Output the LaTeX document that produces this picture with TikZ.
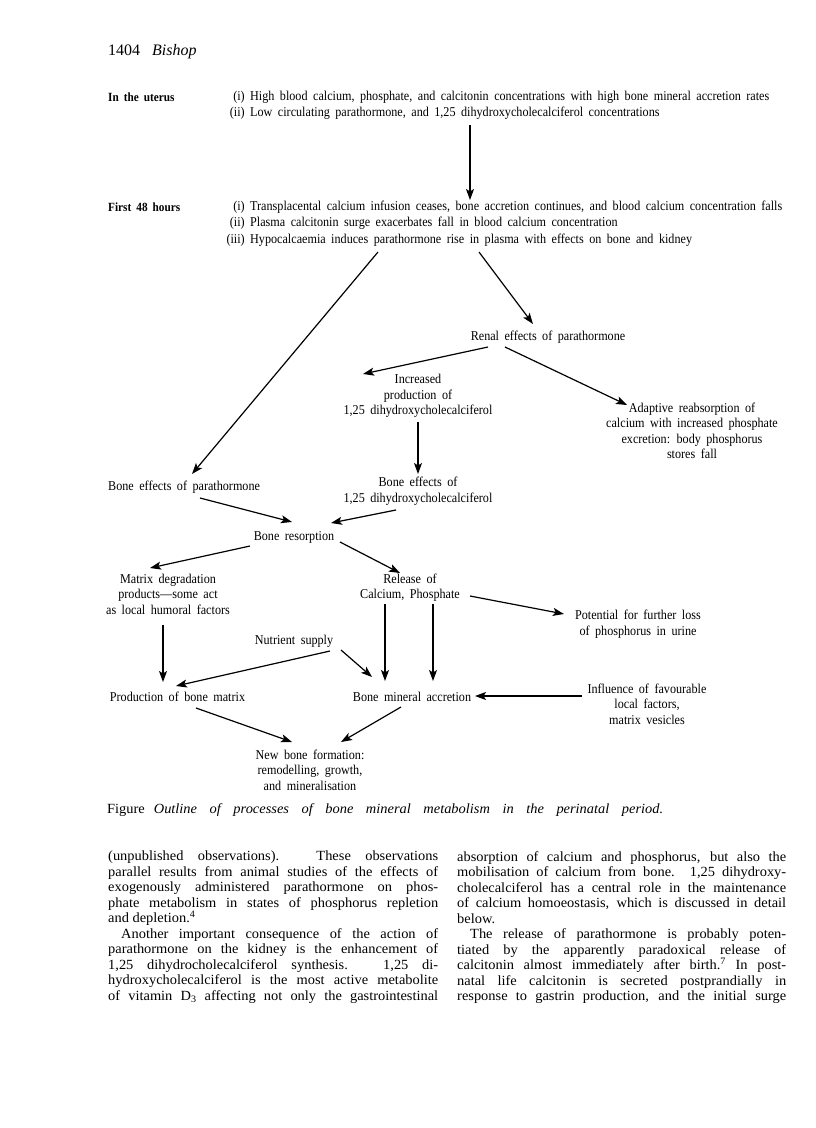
\documentclass[tikz,border=0pt]{standalone}
\usepackage{fontspec}
\setmainfont{Liberation Serif}
\newfontfamily\diagfont{Liberation Serif}[FakeStretch=0.9,WordSpace=1.8]
\newfontfamily\bodyfont{Liberation Serif}[FakeStretch=1.03]
\usepackage{tikz}
\usetikzlibrary{arrows.meta}

\begin{document}
\begin{tikzpicture}[
    x=1pt, y=-1pt,
    lbl/.style={font=\diagfont\fontsize{13.5}{15.5}\selectfont, inner sep=0pt, align=center},
    hdr/.style={font=\diagfont\bfseries\fontsize{12.5}{14}\selectfont, inner sep=0pt, anchor=west},
    itm/.style={lbl, anchor=west},
    arr/.style={-{Stealth[length=11pt,width=8pt,inset=2.5pt]}, line width=1.2pt},
    body/.style={font=\bodyfont\fontsize{14}{15.5}\selectfont, inner sep=0pt, anchor=north west, align=left}
  ]
  \useasboundingbox (0,0) rectangle (816,1128);

  % running head
  \node[font=\fontsize{16}{18}\selectfont, anchor=west, inner sep=0pt] (folio) at (108,52) {1404\hspace{12pt}\textit{Bishop}};

  % before birth
  \node[hdr] (uterus) at (108,97) {In the uterus};
  \node[itm] (u1) at (250,97) {\llap{(i) }High blood calcium, phosphate, and calcitonin concentrations with high bone mineral accretion rates};
  \node[itm] (u2) at (250,113) {\llap{(ii) }Low circulating parathormone, and 1,25 dihydroxycholecalciferol concentrations};

  % first two days
  \node[hdr] (first) at (108,207) {First 48 hours};
  \node[itm] (f1) at (250,207) {\llap{(i) }Transplacental calcium infusion ceases, bone accretion continues, and blood calcium concentration falls};
  \node[itm] (f2) at (250,223) {\llap{(ii) }Plasma calcitonin surge exacerbates fall in blood calcium concentration};
  \node[itm] (f3) at (250,240) {\llap{(iii) }Hypocalcaemia induces parathormone rise in plasma with effects on bone and kidney};

  % kidney branch
  \node[lbl] (renal) at (548,337) {Renal effects of parathormone};
  \node[lbl] (incd) at (418,396) {Increased\\production of\\1,25 dihydroxycholecalciferol};
  \node[lbl] (adapt) at (692,431) {Adaptive reabsorption of\\calcium with increased phosphate\\excretion: body phosphorus\\stores fall};
  \node[lbl] (bonevd) at (418,491) {Bone effects of\\1,25 dihydroxycholecalciferol};

  % bone
  \node[lbl, anchor=west] (bonept) at (108,487) {Bone effects of parathormone};
  \node[lbl] (resorp) at (294,537) {Bone resorption};
  \node[lbl] (matrix) at (168,594) {Matrix degradation\\products—some act\\as local humoral factors};
  \node[lbl] (release) at (410,587.5) {Release of\\Calcium, Phosphate};
  \node[lbl] (loss) at (638,624) {Potential for further loss\\of phosphorus in urine};
  \node[lbl] (nutr) at (294,641) {Nutrient supply};
  \node[lbl] (prodm) at (177.5,697) {Production of bone matrix};
  \node[lbl] (bma) at (412,697) {Bone mineral accretion};
  \node[lbl] (infl) at (647,704) {Influence of favourable\\local factors,\\matrix vesicles};
  \node[lbl] (newb) at (310,770) {New bone formation:\\remodelling, growth,\\and mineralisation};

  \draw[arr] ([shift={(220,12)}]u2.west) -- ([shift={(220,-7)}]f1.west);
  \draw[arr] ([shift={(128,12)}]f3.west) -- ([shift={(84,-13)}]bonept.west);
  \draw[arr] ([shift={(229,12)}]f3.west) -- ([shift={(-15,-13)}]renal.center);
  \draw[arr] ([shift={(-60,10)}]renal.center) -- ([shift={(-55,-22)}]incd.center);
  \draw[arr] ([shift={(-43,10)}]renal.center) -- ([shift={(-65,-26)}]adapt.center);
  \draw[arr] ([shift={(0,26)}]incd.center) -- ([shift={(0,-17)}]bonevd.center);
  \draw[arr] ([shift={(92,11)}]bonept.west) -- ([shift={(-2,-15)}]resorp.center);
  \draw[arr] ([shift={(-22,19)}]bonevd.center) -- ([shift={(37,-14)}]resorp.center);
  \draw[arr] ([shift={(-44,9)}]resorp.center) -- ([shift={(-18,-26)}]matrix.center);
  \draw[arr] ([shift={(46,5)}]resorp.center) -- ([shift={(-10,-14.5)}]release.center);
  \draw[arr] ([shift={(60,8.5)}]release.center) -- ([shift={(-74,-10)}]loss.center);
  \draw[arr] ([shift={(-5,31)}]matrix.center) -- ([shift={(-14.5,-15)}]prodm.center);
  \draw[arr] ([shift={(36,10)}]nutr.center) -- ([shift={(-1.5,-11)}]prodm.center);
  \draw[arr] ([shift={(47,9)}]nutr.center) -- ([shift={(-40,-20)}]bma.center);
  \draw[arr] ([shift={(-25,16.5)}]release.center) -- ([shift={(-27,-16)}]bma.center);
  \draw[arr] ([shift={(23,16.5)}]release.center) -- ([shift={(21,-16)}]bma.center);
  \draw[arr] ([shift={(-65,-8)}]infl.center) -- ([shift={(63,-1)}]bma.center);
  \draw[arr] ([shift={(18.5,11)}]prodm.center) -- ([shift={(-18,-28)}]newb.center);
  \draw[arr] ([shift={(-11,10)}]bma.center) -- ([shift={(31,-28)}]newb.center);

  % caption
  \node[font=\bodyfont\fontsize{14}{16}\selectfont, anchor=west, inner sep=0pt] (capt) at (107,810) {\makebox[556pt][s]{Figure\hspace{9pt}\textit{Outline of processes of bone mineral metabolism in the perinatal period.}}};

  % running text
  \node[body] (colL) at (108,851) {%
    \makebox[330pt][s]{(unpublished observations). These observations}\\
    \makebox[330pt][s]{parallel results from animal studies of the effects of}\\
    \makebox[330pt][s]{exogenously administered parathormone on phos-}\\
    \makebox[330pt][s]{phate metabolism in states of phosphorus repletion}\\
    and depletion.\textsuperscript{4}\\
    \makebox[330pt][s]{\hspace*{13pt}Another important consequence of the action of}\\
    \makebox[330pt][s]{parathormone on the kidney is the enhancement of}\\
    \makebox[330pt][s]{1,25 dihydrocholecalciferol synthesis. 1,25 di-}\\
    \makebox[330pt][s]{hydroxycholecalciferol is the most active metabolite}\\
    \makebox[330pt][s]{of vitamin D\textsubscript{3} affecting not only the gastrointestinal}};
  \node[body] (colR) at (457,851) {%
    \makebox[329pt][s]{absorption of calcium and phosphorus, but also the}\\
    \makebox[329pt][s]{mobilisation of calcium from bone. 1,25 dihydroxy-}\\
    \makebox[329pt][s]{cholecalciferol has a central role in the maintenance}\\
    \makebox[329pt][s]{of calcium homoeostasis, which is discussed in detail}\\
    below.\\
    \makebox[329pt][s]{\hspace*{13pt}The release of parathormone is probably poten-}\\
    \makebox[329pt][s]{tiated by the apparently paradoxical release of}\\
    \makebox[329pt][s]{calcitonin almost immediately after birth.\textsuperscript{7} In post-}\\
    \makebox[329pt][s]{natal life calcitonin is secreted postprandially in}\\
    \makebox[329pt][s]{response to gastrin production, and the initial surge}};
\end{tikzpicture}
\end{document}
